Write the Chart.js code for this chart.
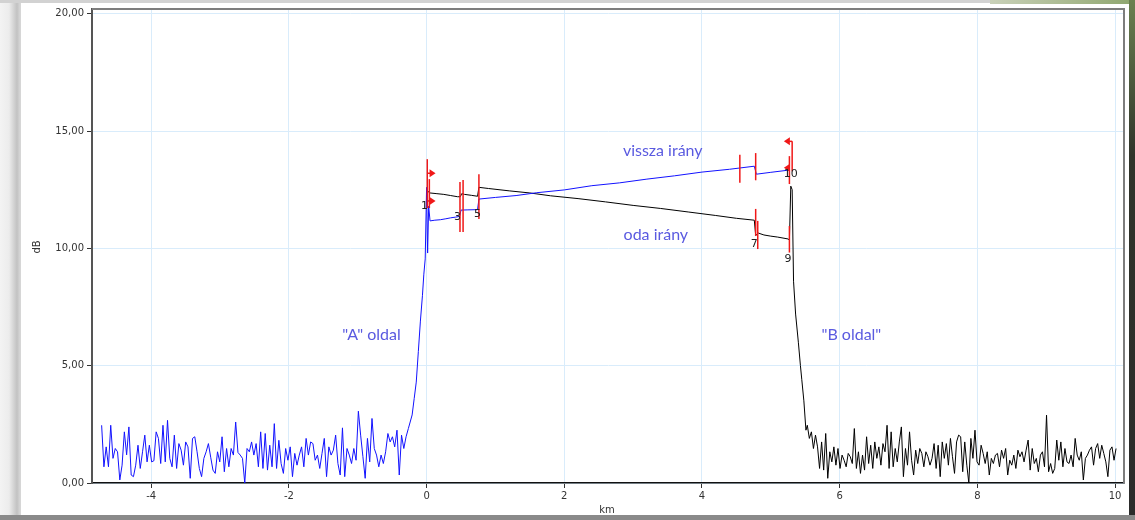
<!DOCTYPE html>
<html>
<head>
<meta charset="utf-8">
<script src="https://cdn.jsdelivr.net/npm/chart.js@4.4.1/dist/chart.umd.min.js"></script>
<style>
    html, body { margin: 0; padding: 0; }
    body { width: 1135px; height: 520px; overflow: hidden; position: relative; background: #fff; }
    .edge { position: absolute; }
    #edge-left { left: 0; top: 0; width: 21px; height: 520px; background: linear-gradient(to right, #f3f3f3 0, #ececec 9px, #c2c2c2 17px, #d6d6d6 20px); }
    #edge-top { left: 0; top: 0; width: 1135px; height: 3px; background: #d2d2d2; }
    #edge-topright { left: 990px; top: 0; width: 145px; height: 4px; background: linear-gradient(to right, #c9d1b9, #8ea66e); }
    #edge-right { left: 1129px; top: 0; width: 6px; height: 520px; background: linear-gradient(#6b8150, #30342a 30%, #2b2b2b); }
    #edge-bottom { left: 0; top: 515px; width: 1135px; height: 5px; background: #8a8a8a; }
    #wrap { position: absolute; left: 0; top: 0; width: 1135px; height: 520px; }
</style>
</head>
<body>
<div class="edge" id="edge-left"></div>
<div class="edge" id="edge-top"></div>
<div class="edge" id="edge-topright"></div>
<div class="edge" id="edge-right"></div>
<div class="edge" id="edge-bottom"></div>
<div id="wrap"><canvas id="otdrChart" width="1135" height="520"></canvas></div>
<script>
// axis ticks
const kmTicks = [-4, -2, 0, 2, 4, 6, 8, 10];
const dbTicks = [0, 5, 10, 15, 20];

// "vissza irány" trace: noise floor before the A end (uniform sampling)
const blueNoiseStart = -4.72;
const blueNoiseStep = 0.033;
const blueNoiseDb = [
    2.46, 0.69, 1.54, 0.69, 2.46, 1.05, 1.47, 1.33, 0.13, 0.76,
    2.18, 1.20, 2.39, 0.34, 0.27, 0.76, 1.61, 0.62, 1.33, 2.04,
    0.90, 1.61, 0.90, 0.95, 2.18, 1.90, 0.83, 2.46, 0.90, 2.67,
    1.05, 0.69, 2.04, 0.62, 1.68, 1.40, 0.76, 1.75, 1.54, 0.20,
    1.90, 1.97, 1.33, 0.62, 0.27, 1.05, 1.33, 1.68, 1.10, 0.55,
    0.41, 1.33, 0.90, 1.97, 0.48, 1.47, 0.69, 1.47, 1.19, 2.60,
    1.30, 1.19, 1.05, 0.00, 1.47, 1.33, 1.75, 1.19,
    1.68, 0.69, 2.18, 0.62, 2.11, 0.55, 1.61, 0.69, 2.53, 0.62,
    1.82, 0.83, 0.41, 1.47, 0.97, 1.54, 0.27, 1.26, 0.76, 1.19,
    1.54, 0.69, 1.90, 1.19, 1.75, 1.68, 0.97, 1.19, 0.62, 1.26,
    1.90, 0.27, 1.54, 1.19, 1.40, 2.04, 0.83, 0.34, 2.35, 0.27,
    1.47, 1.19, 0.83, 1.47, 0.97, 3.06, 2.04, 1.12, 0.20, 1.90,
    0.90, 2.75, 1.47, 1.19, 0.69, 1.19, 0.83, 1.33, 2.11, 1.75,
    1.97, 1.54, 2.25, 0.34, 2.04, 1.47, 1.97, 2.32
];
// "vissza irány" trace: rise and fibre section
const blueKm = [-0.21, -0.18, -0.15, -0.12, -0.09, -0.06, -0.04, -0.02, 0.00, 0.015,
    0.03, 0.05, 0.12, 0.20, 0.28, 0.35, 0.42, 0.48, 0.50, 0.60,
    0.74, 0.76, 1.00, 1.30, 1.60, 2.00, 2.40, 2.80, 3.20, 3.60,
    4.00, 4.40, 4.76, 4.79, 5.00, 5.25, 5.27];
const blueDb = [2.9, 3.6, 4.3, 5.6, 6.9, 8.0, 8.9, 9.55, 12.6, 9.8,
    11.8, 11.17, 11.2, 11.22, 11.26, 11.3, 11.33, 11.36, 11.63, 11.64,
    11.65, 12.1, 12.17, 12.25, 12.37, 12.49, 12.67, 12.79, 12.95, 13.09,
    13.25, 13.37, 13.5, 13.16, 13.24, 13.33, 13.3];

// "oda irány" trace: fibre section and fall at the B end
const blackKm = [0.01, 0.05, 0.15, 0.25, 0.35, 0.45, 0.49, 0.51, 0.55, 0.65,
    0.74, 0.76, 0.90, 1.20, 1.50, 1.80, 2.20, 2.60, 3.00, 3.40,
    3.80, 4.20, 4.50, 4.76, 4.78, 4.82, 4.90, 5.00, 5.10, 5.25,
    5.27, 5.29, 5.31, 5.33, 5.36, 5.40, 5.43, 5.45, 5.48, 5.51];
const blackDb = [12.45, 12.36, 12.33, 12.3, 12.25, 12.2, 12.2, 12.33, 12.3, 12.26,
    12.22, 12.6, 12.55, 12.45, 12.36, 12.24, 12.12, 11.98, 11.83, 11.7,
    11.55, 11.4, 11.28, 11.2, 10.55, 10.65, 10.57, 10.52, 10.48, 10.4,
    10.35, 12.65, 12.5, 8.6, 7.2, 6.0, 5.0, 4.4, 3.5, 2.25];
// "oda irány" trace: noise floor after the B end (uniform sampling)
const blackNoiseStart = 5.53;
const blackNoiseStep = 0.0297;
const blackNoiseDb = [
    2.46, 1.90, 2.18, 1.47, 2.04, 1.54, 0.62, 1.75, 0.55, 2.11,
    0.20, 1.33, 0.90, 1.54, 0.76, 1.47, 0.62, 1.19, 0.97, 0.69,
    1.26, 1.12, 0.83, 2.32, 0.62, 1.33, 0.41, 1.19, 0.55, 1.97,
    0.83, 1.61, 0.62, 1.75, 1.05, 1.54, 0.76, 1.68, 1.33, 2.46,
    0.62, 2.18, 0.69, 1.47, 0.90, 1.75, 2.39, 0.27, 1.47, 0.76,
    2.18, 0.97, 0.34, 1.40, 0.83, 1.47, 1.26, 0.69, 1.33, 1.12,
    0.76, 1.05, 1.68, 0.62, 1.61, 0.27, 1.75, 1.05, 1.68, 0.76,
    1.90, 1.12, 0.41, 1.75, 2.04,
    1.97, 0.48, 1.75, 0.76, 0.00, 1.90, 1.05, 2.25, 0.90, 0.76,
    1.61, 1.26, 0.83, 1.33, 0.34, 1.05, 0.83, 1.19, 1.26, 0.69,
    1.40, 1.05, 1.47, 0.34, 0.97, 0.76, 1.19, 0.62, 1.40, 1.12,
    1.33, 0.90, 1.40, 1.83, 0.55, 1.47, 0.83, 1.05, 0.48, 1.19,
    1.33, 0.69, 2.89, 0.48, 0.83, 0.41, 0.62, 1.83, 0.97, 1.75,
    0.69, 1.47, 0.90, 0.83, 1.19, 0.69, 1.90, 1.19, 0.97, 1.33,
    0.13, 1.05, 1.19, 1.40, 1.54, 0.76, 1.47, 1.68, 1.05, 1.61,
    1.26, 0.90, 0.27, 1.40, 1.54, 0.97, 1.47
];

// event markers (vertical bars) in km / dB
const eventKm  = [0.01, 0.04, 0.485, 0.53, 0.76, 4.55, 4.78, 4.78, 4.81, 5.27, 5.27, 5.31];
const eventTop = [13.8, 12.95, 12.83, 12.91, 13.16, 13.99, 14.06, 11.68, 11.17, 10.95, 13.93, 14.56];
const eventBot = [11.72, 11.72, 10.7, 10.7, 11.25, 12.8, 12.9, 10.53, 9.97, 9.82, 12.74, 13.29];
// section arrows: start km, level dB, end km
const arrowFromKm = [0.01, 0.01, 5.31, 5.27];
const arrowDb     = [13.2, 12.02, 14.56, 13.43];
const arrowToKm   = [0.13, 0.13, 5.19, 5.19];
// event numbers
const eventNames = ['1', '3', '5', '7', '9', '10'];
const eventNameKm = [-0.03, 0.45, 0.74, 4.76, 5.25, 5.29];
const eventNameDb = [11.8, 11.34, 11.47, 10.19, 9.55, 13.16];
// notes written on the plot
const noteTexts = ['vissza irány', 'oda irány', '"A" oldal', '"B oldal"'];
const noteKm = [3.43, 3.33, -0.8, 6.17];
const noteDb = [14.14, 10.57, 6.33, 6.33];

const bluePoints = blueNoiseDb.map((v, i) => ({ x: blueNoiseStart + i * blueNoiseStep, y: v }))
    .concat(blueKm.map((x, i) => ({ x: x, y: blueDb[i] })));
const blackPoints = blackKm.map((x, i) => ({ x: x, y: blackDb[i] }))
    .concat(blackNoiseDb.map((v, i) => ({ x: blackNoiseStart + i * blackNoiseStep, y: v })));

const overlay = {
    id: 'overlay',
    afterDatasetsDraw(chart) {
        const { ctx, chartArea: a, scales: { x, y } } = chart;
        ctx.save();

        // frame on top and right
        ctx.strokeStyle = '#7d7d7d';
        ctx.lineWidth = 2;
        ctx.beginPath();
        ctx.moveTo(a.left, a.top);
        ctx.lineTo(a.right, a.top);
        ctx.lineTo(a.right, a.bottom);
        ctx.stroke();

        // event bars
        ctx.strokeStyle = '#f01818';
        ctx.lineWidth = 1.5;
        eventKm.forEach((km, i) => {
            const px = x.getPixelForValue(km);
            ctx.beginPath();
            ctx.moveTo(px, y.getPixelForValue(eventTop[i]));
            ctx.lineTo(px, y.getPixelForValue(eventBot[i]));
            ctx.stroke();
        });

        // arrows
        ctx.fillStyle = '#f01818';
        arrowFromKm.forEach((km, i) => {
            const x0 = x.getPixelForValue(km);
            const x1 = x.getPixelForValue(arrowToKm[i]);
            const py = y.getPixelForValue(arrowDb[i]);
            const dir = Math.sign(x1 - x0);
            ctx.beginPath();
            ctx.moveTo(x0, py);
            ctx.lineTo(x1 - dir * 4, py);
            ctx.stroke();
            ctx.beginPath();
            ctx.moveTo(x1, py);
            ctx.lineTo(x1 - dir * 6, py - 4);
            ctx.lineTo(x1 - dir * 6, py + 4);
            ctx.closePath();
            ctx.fill();
        });

        // event numbers
        ctx.fillStyle = '#222';
        ctx.font = '11px "DejaVu Sans"';
        ctx.textAlign = 'center';
        ctx.textBaseline = 'middle';
        eventNames.forEach((t, i) => {
            ctx.fillText(t, x.getPixelForValue(eventNameKm[i]), y.getPixelForValue(eventNameDb[i]));
        });

        // notes
        ctx.fillStyle = '#5a5ae0';
        ctx.font = '16px Lato';
        noteTexts.forEach((t, i) => {
            ctx.fillText(t, x.getPixelForValue(noteKm[i]), y.getPixelForValue(noteDb[i]));
        });

        ctx.restore();
    },
    afterDraw(chart) {
        const { ctx } = chart;
        ctx.save();
        ctx.fillStyle = '#333';
        ctx.font = '10px "DejaVu Sans"';
        ctx.textAlign = 'center';
        ctx.textBaseline = 'middle';
        ctx.fillText('km', 607, 510);
        ctx.translate(37, 247);
        ctx.rotate(-Math.PI / 2);
        ctx.fillText('dB', 0, 0);
        ctx.restore();
    }
};

const tickFont = { family: 'DejaVu Sans', size: 10 };

new Chart(document.getElementById('otdrChart').getContext('2d'), {
    type: 'line',
    data: {
        datasets: [{
            label: 'vissza irány',
            data: bluePoints,
            borderColor: '#1212ff',
            borderWidth: 1,
            pointRadius: 0,
            tension: 0
        }, {
            label: 'oda irány',
            data: blackPoints,
            borderColor: '#000000',
            borderWidth: 1,
            pointRadius: 0,
            tension: 0
        }]
    },
    options: {
        responsive: false,
        animation: false,
        layout: { padding: { top: 7, right: 11, left: 0, bottom: 0 } },
        plugins: {
            legend: { display: false },
            tooltip: { enabled: false }
        },
        scales: {
            x: {
                type: 'linear',
                min: -4.86,
                max: 10.13,
                afterBuildTicks: s => { s.ticks = kmTicks.map(v => ({ value: v })); },
                afterFit: s => { s.height = 37; },
                grid: { color: '#d9ecfb', tickColor: '#333', tickLength: 5 },
                border: { color: '#111', width: 1.5 },
                ticks: { font: tickFont, color: '#333', padding: 2, maxRotation: 0, callback: v => String(v) }
            },
            y: {
                min: 0,
                max: 20.2,
                afterBuildTicks: s => { s.ticks = dbTicks.map(v => ({ value: v })); },
                afterFit: s => { s.width = 92; },
                grid: { color: '#d9ecfb', tickColor: '#333', tickLength: 5 },
                border: { color: '#555', width: 2 },
                ticks: { font: tickFont, color: '#333', padding: 3, callback: v => v.toFixed(2).replace('.', ',') }
            }
        }
    },
    plugins: [overlay]
});
</script>
</body>
</html>
